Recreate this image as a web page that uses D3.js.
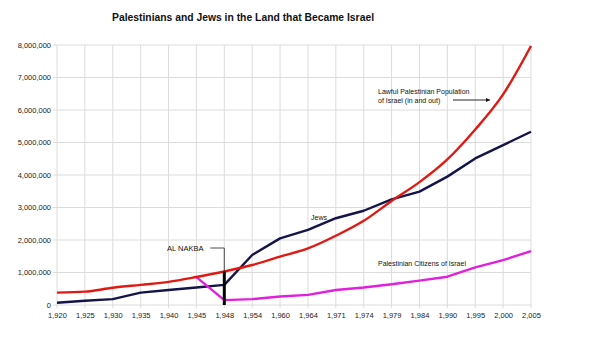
<!DOCTYPE html>
<html><head><meta charset="utf-8">
<script src="https://cdn.jsdelivr.net/npm/d3@7"></script>
<style>body{margin:0;background:#fff}svg{display:block}</style>
</head><body>
<svg id="c" width="600" height="343"></svg>
<script>
const years = [1920,1925,1930,1935,1940,1945,1948,1954,1960,1964,1971,1974,1979,1984,1990,1995,2000,2005];
const lawfulPalestinian = [380000,410000,530000,620000,710000,860000,1030000,1230000,1490000,1740000,2130000,2590000,3200000,3780000,4480000,5400000,6480000,7970000];
const jews = [70000,130000,180000,380000,460000,540000,620000,1540000,2050000,2310000,2670000,2900000,3250000,3490000,3950000,4510000,4920000,5330000];
const palestinianCitizens = [null,null,null,null,null,860000,150000,180000,260000,310000,460000,540000,640000,750000,870000,1160000,1380000,1660000];
const yTicks = [0,1000000,2000000,3000000,4000000,5000000,6000000,7000000,8000000];

const svg = d3.select('#c');
const L = 57, R = 531, T = 45, B = 305;
const x = d3.scalePoint().domain(years).range([L, R]);
const y = d3.scaleLinear().domain([0, 8000000]).range([B, T]);
const fmt = d3.format(',');
const font = 'Liberation Sans, Arial, sans-serif';

svg.append('text').attr('x', 243).attr('y', 21).attr('text-anchor','middle')
  .attr('font-family', font).attr('font-weight','bold').attr('font-size', 11).attr('fill','#111')
  .attr('textLength', 262).attr('lengthAdjust','spacingAndGlyphs')
  .text('Palestinians and Jews in the Land that Became Israel');

// grid
const g = svg.append('g');
g.selectAll('.hg').data(yTicks).join('line')
  .attr('x1', L - 4).attr('x2', R).attr('y1', d => y(d)).attr('y2', d => y(d))
  .attr('stroke', '#dcdcdc').attr('stroke-width', 1);
g.selectAll('.vg').data(years).join('line')
  .attr('x1', d => x(d)).attr('x2', d => x(d)).attr('y1', T).attr('y2', B + 3)
  .attr('stroke', '#dcdcdc').attr('stroke-width', 1);

// axes labels
const yAxis = d3.axisLeft(y).tickValues(yTicks).tickFormat(fmt).tickSize(0).tickPadding(6);
const ya = svg.append('g').attr('transform', `translate(${L},0)`).call(yAxis);
ya.select('.domain').remove();
ya.selectAll('text').attr('font-family', font).attr('font-size', 7.5).attr('fill', '#222');

const xAxis = d3.axisBottom(x).tickFormat(fmt).tickSize(0).tickPadding(8);
const xa = svg.append('g').attr('transform', `translate(0,${B})`).call(xAxis);
xa.select('.domain').remove();
xa.selectAll('text').attr('font-family', font).attr('font-size', 7.5).attr('fill', '#222');

// lines
function draw(vals, color, curve) {
  const line = d3.line().defined(d => d[1] != null).x(d => x(d[0])).y(d => y(d[1])).curve(curve);
  svg.append('path').datum(years.map((yr, i) => [yr, vals[i]]))
    .attr('d', line).attr('fill','none').attr('stroke', color).attr('stroke-width', 2.4)
    .attr('stroke-linejoin','round');
}
draw(jews, '#14144a', d3.curveLinear);
draw(palestinianCitizens, '#e020dc', d3.curveLinear);
draw(lawfulPalestinian, '#e01a12', d3.curveMonotoneX);

// Nakba bar
const xn = x(1948);
svg.append('line').attr('x1', xn).attr('x2', xn).attr('y1', y(1030000)).attr('y2', B)
  .attr('stroke', '#000').attr('stroke-width', 3);
svg.append('polyline').attr('points', `${xn - 14},248 ${xn},248 ${xn},${y(1030000)}`)
  .attr('fill','none').attr('stroke','#222').attr('stroke-width', 0.8);
svg.append('text').attr('x', 167).attr('y', 251).attr('font-family', font).attr('font-size', 7.5)
  .attr('fill','#111').text('AL NAKBA');

svg.append('text').attr('x', 311).attr('y', 220).attr('font-family', font).attr('font-size', 7)
  .attr('fill','#111').text('Jews');
svg.append('text').attr('x', 378).attr('y', 94).attr('font-family', font).attr('font-size', 7)
  .attr('fill','#111').text('Lawful Palestinian Population');
svg.append('text').attr('x', 378).attr('y', 103).attr('font-family', font).attr('font-size', 7)
  .attr('fill','#111').text('of Israel (in and out)');
svg.append('defs').append('marker').attr('id','ah').attr('viewBox','0 0 10 10').attr('refX',10).attr('refY',5)
  .attr('markerWidth',5).attr('markerHeight',5).attr('orient','auto')
  .append('path').attr('d','M0,0L10,5L0,10z').attr('fill','#111');
svg.append('line').attr('x1', 453).attr('x2', 490).attr('y1', 100).attr('y2', 100)
  .attr('stroke','#111').attr('stroke-width', 0.9).attr('marker-end','url(#ah)');
svg.append('text').attr('x', 378).attr('y', 266).attr('font-family', font).attr('font-size', 7)
  .attr('fill','#111').text('Palestinian Citizens of Israel');
</script>
</body></html>
